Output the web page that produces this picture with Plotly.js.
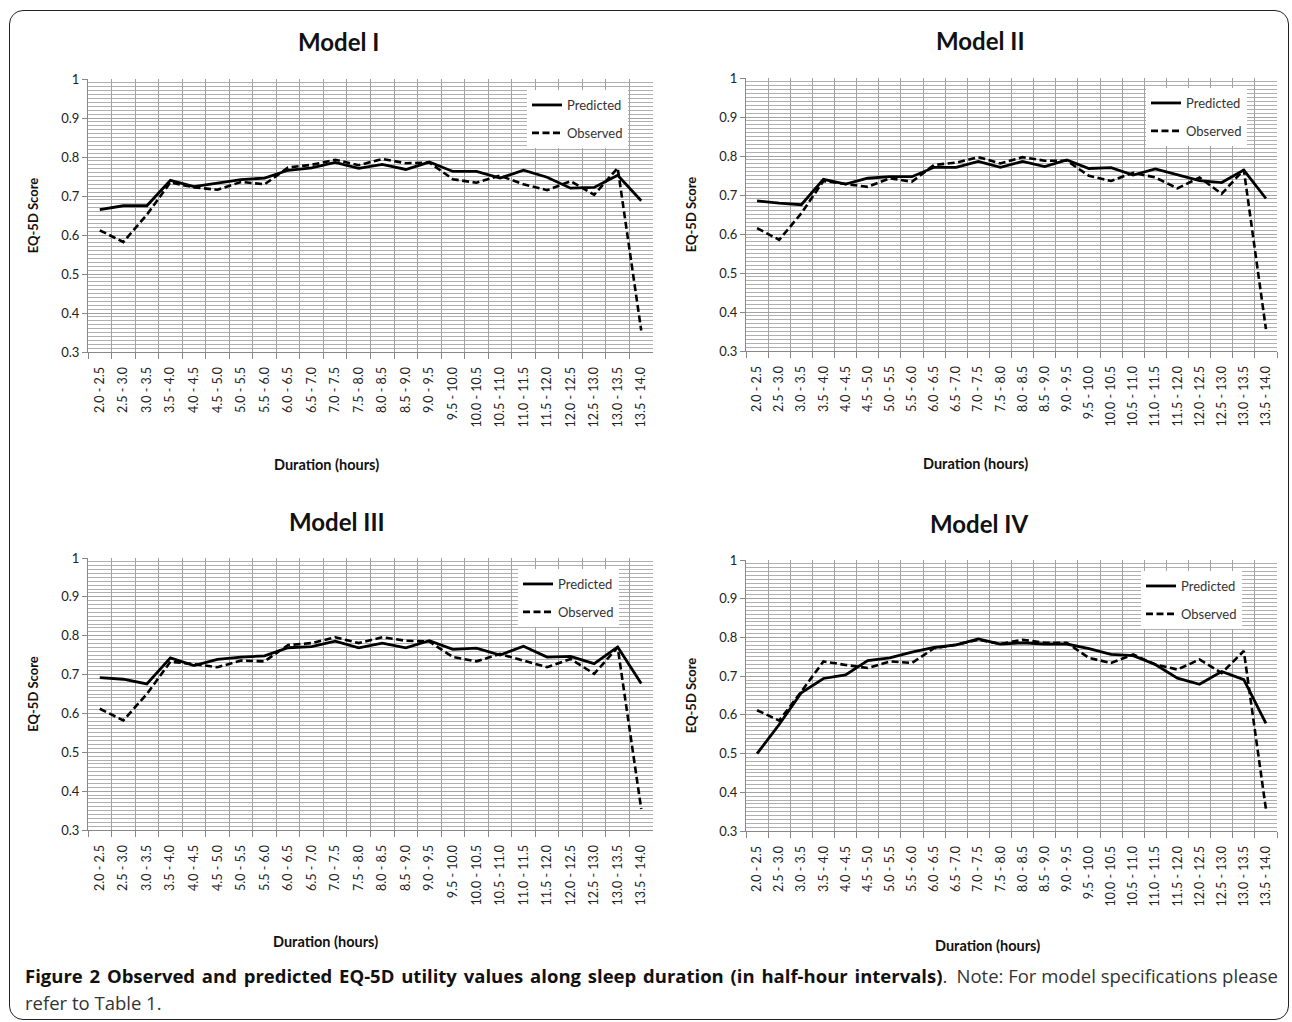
<!DOCTYPE html>
<html>
<head>
<meta charset="utf-8">
<script src="https://cdn.plot.ly/plotly-3.0.1.min.js"></script>
<style>
  html, body { margin: 0; padding: 0; background: #fff; }
  #wrap { position: relative; width: 1292px; height: 1022px; overflow: hidden; }
  #frame { position: absolute; left: 9px; top: 10px; width: 1280px; height: 1010px;
           border: 1.5px solid #222; border-radius: 14px; box-sizing: border-box; }
  #chart { position: absolute; left: 0; top: 0; width: 1292px; height: 1022px; }
  .cap { position: absolute; left: 25px; width: 1253px;
         font-family: "Open Sans", sans-serif; font-size: 18.5px; line-height: 27px;
         color: #333; white-space: nowrap; }
  #cap1 { top: 962px; display: flex; justify-content: space-between; }
  #cap2 { top: 989px; }
  .cap b { color: #111; word-spacing: 2px; }
</style>
</head>
<body>
<div id="wrap">
  <div id="frame"></div>
  <div id="chart"></div>
  <div class="cap" id="cap1"><span><b>Figure 2 Observed and predicted EQ-5D utility values along sleep duration (in half-hour intervals)</b>.</span><span>Note: For model specifications please</span></div>
  <div class="cap" id="cap2"><span>refer to Table 1.</span></div>
</div>
<script>
const categories = ["2.0 - 2.5","2.5 - 3.0","3.0 - 3.5","3.5 - 4.0","4.0 - 4.5","4.5 - 5.0","5.0 - 5.5","5.5 - 6.0",
  "6.0 - 6.5","6.5 - 7.0","7.0 - 7.5","7.5 - 8.0","8.0 - 8.5","8.5 - 9.0","9.0 - 9.5","9.5 - 10.0",
  "10.0 - 10.5","10.5 - 11.0","11.0 - 11.5","11.5 - 12.0","12.0 - 12.5","12.5 - 13.0","13.0 - 13.5","13.5 - 14.0"];

const modelTitles = ["Model I", "Model II", "Model III", "Model IV"];
const seriesNames = ["Predicted", "Observed"];
const xTitle = "Duration (hours)";
const yTitle = "EQ-5D Score";
const yTickVals = [0.3, 0.4, 0.5, 0.6, 0.7, 0.8, 0.9, 1];

const predictedI   = [0.665,0.675,0.675,0.740,0.724,0.733,0.742,0.746,0.766,0.772,0.786,0.771,0.781,0.768,0.787,0.763,0.763,0.746,0.766,0.748,0.720,0.722,0.753,0.688];
const observedI    = [0.612,0.582,0.652,0.735,0.722,0.716,0.736,0.730,0.773,0.780,0.793,0.779,0.795,0.784,0.786,0.743,0.734,0.752,0.730,0.715,0.738,0.703,0.772,0.355];
const predictedII  = [0.685,0.679,0.675,0.740,0.728,0.743,0.747,0.747,0.771,0.771,0.786,0.771,0.786,0.773,0.790,0.768,0.770,0.751,0.767,0.751,0.737,0.732,0.764,0.691];
const observedII   = [0.615,0.585,0.653,0.736,0.728,0.721,0.743,0.734,0.777,0.783,0.797,0.781,0.797,0.788,0.788,0.749,0.736,0.757,0.745,0.717,0.745,0.703,0.765,0.356];
const predictedIII = [0.692,0.688,0.676,0.743,0.723,0.739,0.745,0.748,0.769,0.772,0.786,0.769,0.781,0.769,0.787,0.765,0.768,0.750,0.773,0.745,0.747,0.728,0.771,0.677];
const observedIII  = [0.612,0.582,0.650,0.733,0.727,0.719,0.736,0.734,0.776,0.781,0.796,0.781,0.796,0.787,0.785,0.745,0.734,0.753,0.736,0.719,0.740,0.702,0.770,0.354];
const predictedIV  = [0.500,0.575,0.657,0.694,0.703,0.740,0.747,0.762,0.774,0.781,0.796,0.783,0.786,0.783,0.783,0.771,0.756,0.753,0.730,0.695,0.679,0.712,0.691,0.578];
const observedIV   = [0.612,0.585,0.660,0.738,0.729,0.721,0.738,0.734,0.772,0.781,0.794,0.783,0.794,0.786,0.786,0.747,0.734,0.756,0.730,0.717,0.743,0.708,0.765,0.356];

const predictedAll = [predictedI, predictedII, predictedIII, predictedIV];
const observedAll  = [observedI, observedII, observedIII, observedIV];

const W = 1292, H = 1022;
// pixel boxes of each plot area [left, right, top, bottom]
const boxes = [[88,653,79,352],[746,1277,78,351],[88,653,558,830],[746,1277,560,831]];
const titlePos = [[339,42],[980,41],[337,521],[979,523]];
const xTitlePos = [[326,465],[976,463],[325,941],[987,945]];
const legendPos = [[527,90],[1146,88],[518,569],[1141,571]];

const FONT = "Lato, 'Open Sans', sans-serif";
const traces = [];
const layout = {
  width: W, height: H,
  margin: {l:0, r:0, t:0, b:0},
  paper_bgcolor: "rgba(0,0,0,0)",
  plot_bgcolor: "#ffffff",
  showlegend: true,
  font: {family: FONT, color: "#222", size: 12},
  annotations: []
};

for (let i = 0; i < 4; i++) {
  const n = i + 1;
  const xa = n === 1 ? "x" : "x" + n;
  const ya = n === 1 ? "y" : "y" + n;
  const lg = n === 1 ? "legend" : "legend" + n;
  traces.push({
    type: "scatter", mode: "lines", x: categories, y: predictedAll[i],
    name: seriesNames[0], xaxis: xa, yaxis: ya, legend: lg, legendgroup: "p" + n,
    line: {color: "#000", width: 2.8}, hoverinfo: "x+y"
  });
  traces.push({
    type: "scatter", mode: "lines", x: categories, y: observedAll[i],
    name: seriesNames[1], xaxis: xa, yaxis: ya, legend: lg, legendgroup: "o" + n,
    line: {color: "#000", width: 2.6, dash: "7px,3.5px"}, hoverinfo: "x+y"
  });
  const b = boxes[i];
  layout["xaxis" + (n === 1 ? "" : n)] = {
    domain: [b[0]/W, b[1]/W], anchor: ya, type: "category",
    range: [-0.5, 23.5], tickson: "boundaries", ticks: "outside", ticklen: 6,
    tickcolor: "#888", tickwidth: 1, tickangle: -90, ticklabelstandoff: 9,
    showgrid: true, gridcolor: "#a3a3a3", gridwidth: 1,
    showline: true, linecolor: "#888", linewidth: 1, zeroline: false,
    tickfont: {family: FONT, size: 12.5, color: "#222"},
    automargin: false, fixedrange: true
  };
  layout["yaxis" + (n === 1 ? "" : n)] = {
    domain: [1 - b[3]/H, 1 - b[2]/H], anchor: xa,
    range: [0.3, 1], tickvals: yTickVals, ticks: "outside", ticklen: 5,
    tickcolor: "#888", tickwidth: 1,
    showgrid: true, gridcolor: "#a3a3a3", gridwidth: 1,
    minor: {dtick: 0.01, showgrid: true, gridcolor: "#b0b0b0", gridwidth: 1, ticks: ""},
    showline: true, linecolor: "#888", linewidth: 1, zeroline: false,
    tickfont: {family: FONT, size: 13, color: "#222"},
    title: {text: "<b>" + yTitle + "</b>", standoff: 19,
            font: {family: FONT, size: 13, color: "#111"}},
    automargin: false, fixedrange: true
  };
  const lp = legendPos[i];
  layout[lg] = {
    x: lp[0]/W, y: 1 - lp[1]/H, xanchor: "left", yanchor: "top",
    bgcolor: "#ffffff", borderwidth: 0, traceorder: "grouped", tracegroupgap: 8,
    font: {family: FONT, size: 13, color: "#333"}, itemwidth: 30
  };
  layout.annotations.push({
    text: "<b>" + modelTitles[i] + "</b>", xref: "paper", yref: "paper",
    x: titlePos[i][0]/W, y: 1 - titlePos[i][1]/H, xanchor: "center", yanchor: "middle",
    showarrow: false, font: {family: FONT, size: 24, color: "#111"}
  });
  layout.annotations.push({
    text: "<b>" + xTitle + "</b>", xref: "paper", yref: "paper",
    x: xTitlePos[i][0]/W, y: 1 - xTitlePos[i][1]/H, xanchor: "center", yanchor: "middle",
    showarrow: false, font: {family: FONT, size: 14.5, color: "#111"}
  });
}

Plotly.newPlot("chart", traces, layout, {displayModeBar: false, staticPlot: true});
</script>
</body>
</html>
